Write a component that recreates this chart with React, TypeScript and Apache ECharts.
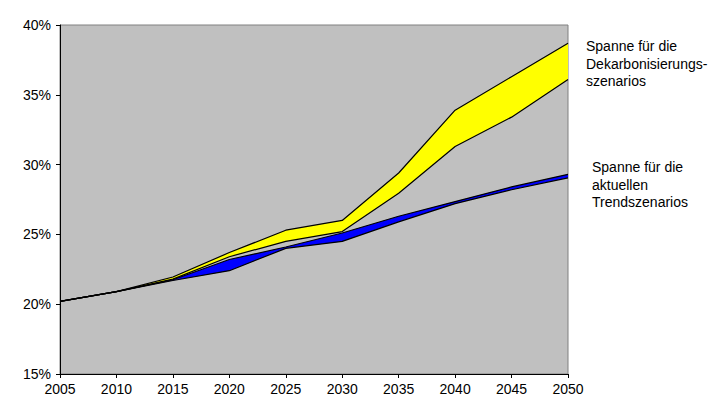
import React, { useEffect, useRef } from "react";
import * as echarts from "echarts";

const years = ["2005", "2010", "2015", "2020", "2025", "2030", "2035", "2040", "2045", "2050"];
const decarbUpper = [20.2, 20.9, 21.95, 23.7, 25.3, 26.0, 29.4, 33.9, 36.3, 38.7];
const decarbLower = [20.2, 20.9, 21.8, 23.4, 24.5, 25.2, 27.95, 31.3, 33.4, 36.1];
const trendUpper = [20.2, 20.9, 21.75, 23.2, 24.1, 25.1, 26.3, 27.35, 28.4, 29.3];
const trendLower = [20.2, 20.9, 21.7, 22.4, 24.0, 24.5, 25.9, 27.2, 28.2, 29.05];
const yTicks = { min: 15, max: 40, interval: 5 };
const labelDecarb = ["Spanne für die", "Dekarbonisierungs-", "szenarios"];
const labelTrend = ["Spanne für die", "aktuellen", "Trendszenarios"];

const FONT = "'Liberation Sans', Arial, sans-serif";

export default function App() {
  const ref = useRef<HTMLDivElement>(null);
  useEffect(() => {
    if (!ref.current) return;
    const chart = echarts.init(ref.current, null, { renderer: "svg" });
    const diff = (a: number[], b: number[]) => a.map((v, i) => +(v - b[i]).toFixed(3));
    const base = (name: string, data: number[], stack: string) => ({
      name,
      type: "line",
      stack,
      data,
      symbol: "none",
      lineStyle: { width: 0, opacity: 0 },
      silent: true,
      z: 2,
    });
    const band = (name: string, data: number[], stack: string, color: string) => ({
      name,
      type: "line",
      stack,
      data,
      symbol: "none",
      lineStyle: { width: 0, opacity: 0 },
      areaStyle: { color, opacity: 1 },
      silent: true,
      z: 2,
    });
    const outline = (name: string, data: number[]) => ({
      name,
      type: "line",
      data,
      symbol: "none",
      lineStyle: { color: "#000", width: 1.2 },
      silent: true,
      z: 5,
    });
    chart.setOption({
      animation: false,
      grid: {
        left: 60,
        top: 25,
        right: 153,
        bottom: 42,
        show: true,
        backgroundColor: "#c0c0c0",
        borderColor: "#808080",
        borderWidth: 1,
      },
      xAxis: {
        type: "category",
        data: years,
        boundaryGap: false,
        axisLine: { lineStyle: { color: "#000", width: 1 } },
        axisTick: { show: true, inside: false, length: 4, lineStyle: { color: "#000" } },
        axisLabel: { color: "#000", fontSize: 14, fontFamily: FONT, margin: 8, showMinLabel: true, showMaxLabel: true, interval: 0 },
        splitLine: { show: false },
      },
      yAxis: {
        type: "value",
        min: yTicks.min,
        max: yTicks.max,
        interval: yTicks.interval,
        axisLine: { show: true, lineStyle: { color: "#000", width: 1 } },
        axisTick: { show: true, inside: false, length: 4, lineStyle: { color: "#000" } },
        axisLabel: { color: "#000", fontSize: 14, fontFamily: FONT, margin: 9, formatter: (v: number) => v + "%" },
        splitLine: { show: false },
      },
      series: [
        base("decarbBase", decarbLower, "d"),
        band("decarbBand", diff(decarbUpper, decarbLower), "d", "#ffff00"),
        base("trendBase", trendLower, "t"),
        band("trendBand", diff(trendUpper, trendLower), "t", "#0000ff"),
        outline("decarbUpper", decarbUpper),
        outline("decarbLower", decarbLower),
        outline("trendUpper", trendUpper),
        outline("trendLower", trendLower),
      ],
      graphic: [
        ...labelDecarb.map((t, i) => ({
          type: "text",
          left: 586,
          top: 39 + i * 17.5,
          style: { text: t, fill: "#000", font: `14px ${FONT}` },
        })),
        ...labelTrend.map((t, i) => ({
          type: "text",
          left: 592,
          top: 160 + i * 17.5,
          style: { text: t, fill: "#000", font: `14px ${FONT}` },
        })),
      ],
    });
    return () => chart.dispose();
  }, []);
  return <div ref={ref} style={{ width: 721, height: 416, position: "absolute", left: 0, top: 0 }} />;
}
